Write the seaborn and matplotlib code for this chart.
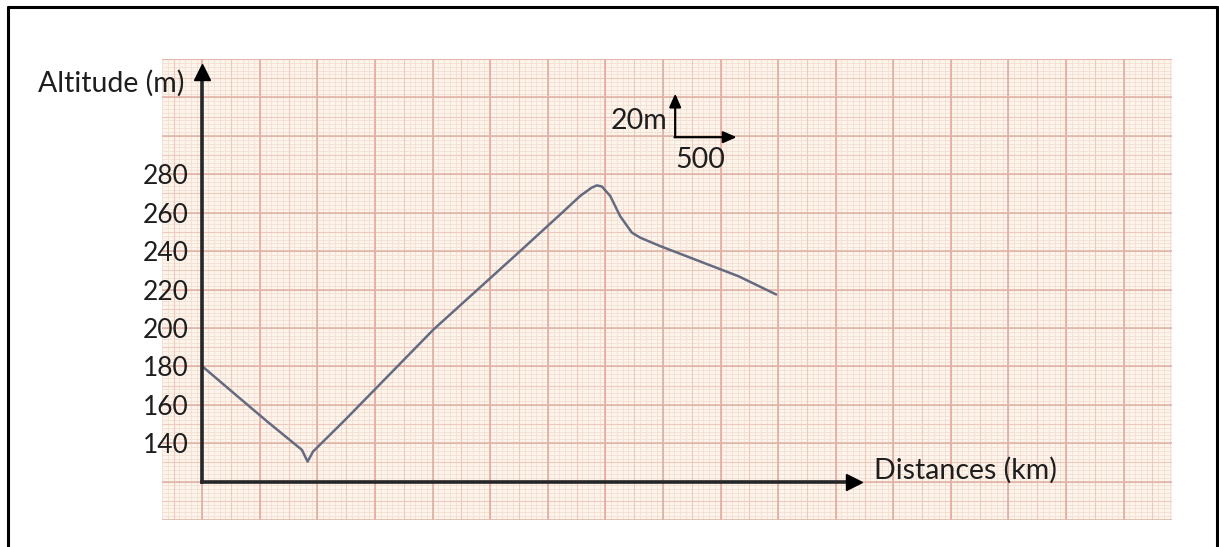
import numpy as np
import pandas as pd
import matplotlib
matplotlib.use("Agg")
import matplotlib.pyplot as plt
import seaborn as sns

# altitude profile (x in km units of the drawing, y in m)
distance = [0, 272, 563, 865, 890, 914, 937, 961, 1241, 2008, 2760,
            3108, 3281, 3380, 3426, 3470, 3542, 3628, 3730, 3802, 3976, 4656, 4983]
altitude = [180, 166.1, 151.3, 136.5, 133.4, 130.4, 132.9, 135.6, 152.2, 199.2, 240,
            259.1, 268.7, 273.0, 274.2, 273.6, 268.7, 258.2, 249.6, 247.0, 242.6, 226.9, 217.4]
ytick_values = [140, 160, 180, 200, 220, 240, 260, 280]

df = pd.DataFrame({"distance": distance, "altitude": altitude})

sns.set_style("white")
plt.rcParams["font.family"] = ["Lato", "DejaVu Sans"]

fig = plt.figure(figsize=(12.19, 5.47), dpi=100)
ax = fig.add_axes([162 / 1219, 27 / 547, 1010 / 1219, 461 / 547])
ax.set_facecolor("#fdf4ec")

x0, x1, y0, y1 = -350, 8420, 100, 340
ax.set_xlim(x0, x1)
ax.set_ylim(y0, y1)

# graph paper
xs = np.arange(-350, 8421, 50)
ys = np.arange(100, 341, 2)
ax.vlines(xs, y0, y1, color="#f4dfd3", lw=0.6, zorder=0)
ax.hlines(ys, x0, x1, color="#f4dfd3", lw=0.6, zorder=0)
ax.vlines(np.arange(-250, 8421, 250), y0, y1, color="#eccbbd", lw=0.8, zorder=0)
ax.hlines(np.arange(100, 341, 10), x0, x1, color="#eccbbd", lw=0.8, zorder=0)
big = np.arange(0, 8421, 500)
ax.vlines(big[1::2], y0, y1, color="#e6aaa0", lw=1.2, zorder=0)
ax.vlines(big[0::2], y0, y1, color="#dcb0a3", lw=1.2, zorder=0)
ax.hlines(np.arange(100, 341, 20), x0, x1, color="#dfb2a5", lw=1.1, zorder=0)

# profile
sns.lineplot(data=df, x="distance", y="altitude", ax=ax, color="#646b80",
             lw=1.8, sort=False, zorder=3)

# axes with arrows
for s in ["top", "right"]:
    ax.spines[s].set_visible(False)
ax.spines["left"].set_position(("data", 0))
ax.spines["bottom"].set_position(("data", 120))
ax.spines["left"].set_bounds(120, 332)
ax.spines["bottom"].set_bounds(0, 5650)
ax.spines["left"].set_linewidth(2.6)
ax.spines["bottom"].set_linewidth(2.6)
ax.spines["left"].set_zorder(4)
ax.spines["bottom"].set_zorder(4)
ax.plot([0], [333], marker="^", color="black", ms=11, clip_on=False, zorder=5)
ax.plot([5660], [120], marker=">", color="black", ms=11, clip_on=False, zorder=5)

ax.set_xticks([])
ax.set_yticks(ytick_values)
ax.set_yticklabels([str(v) for v in ytick_values])
ax.tick_params(axis="y", direction="out", length=9, width=1.2, color="#222222",
               labelsize=19, labelcolor="#1e1e1e", pad=1)
ax.set_xlabel("")
ax.set_ylabel("")

ax.text(-160, 327.5, "Altitude (m)", ha="right", va="center", fontsize=20.5,
        color="#1e1e1e", clip_on=False)
ax.text(5830, 126, "Distances (km)", ha="left", va="center", fontsize=20.5,
        color="#1e1e1e")

# scale indicator
ax.annotate("", xy=(4106, 322), xytext=(4106, 299.3),
            arrowprops=dict(arrowstyle="-|>,head_width=0.35,head_length=0.8",
                            color="black", lw=1.6, shrinkA=0, shrinkB=0))
ax.annotate("", xy=(4640, 299.3), xytext=(4100, 299.3),
            arrowprops=dict(arrowstyle="-|>,head_width=0.35,head_length=0.8",
                            color="black", lw=1.6, shrinkA=0, shrinkB=0))
ax.text(4035, 307.5, "20m", ha="right", va="center", fontsize=20.5, color="#1e1e1e")
ax.text(4106, 287.5, "500", ha="left", va="center", fontsize=20.5, color="#1e1e1e")

# frame around the picture
fig.add_artist(plt.Line2D([8 / 1219, 8 / 1219], [-0.01, 1 - 7 / 547], color="black", lw=2.2))
fig.add_artist(plt.Line2D([8 / 1219, 1217 / 1219], [1 - 7 / 547, 1 - 7 / 547], color="black", lw=2.2))
fig.add_artist(plt.Line2D([1217 / 1219, 1217 / 1219], [-0.01, 1 - 7 / 547], color="black", lw=2.2))

fig.savefig("out.png", dpi=100)
